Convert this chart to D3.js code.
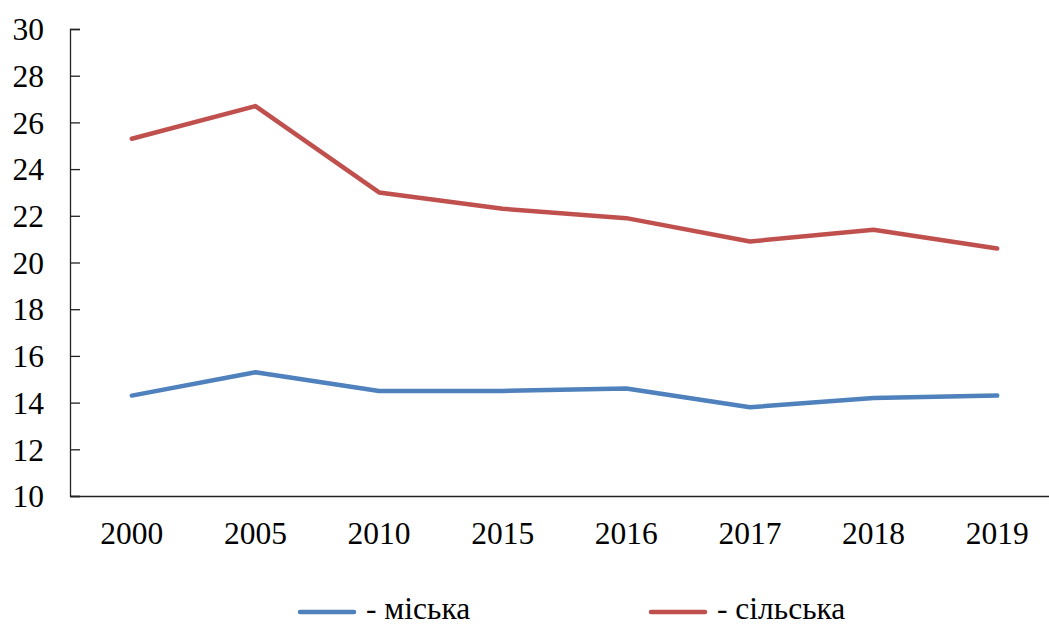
<!DOCTYPE html>
<html>
<head>
<meta charset="utf-8">
<script src="https://cdn.jsdelivr.net/npm/d3@7"></script>
<style>
  html, body { margin: 0; padding: 0; background: #fff; }
  svg { display: block; }
</style>
</head>
<body>
<svg id="chart" width="1049" height="626"></svg>
<script>
// Years on the category axis
const years = ["2000", "2005", "2010", "2015", "2016", "2017", "2018", "2019"];
// Urban series
const urban = [14.3, 15.3, 14.5, 14.5, 14.6, 13.8, 14.2, 14.3];
// Rural series
const rural = [25.3, 26.7, 23.0, 22.3, 21.9, 20.9, 21.4, 20.6];
// Y axis tick values
const yTicks = [10, 12, 14, 16, 18, 20, 22, 24, 26, 28, 30];
// Series names for the legend
const seriesNames = ["- міська", "- сільська"];
const seriesColors = ["#4F81BD", "#C0504D"];

const FONT = "'Liberation Serif', 'Times New Roman', Tinos, serif";
const FONT_SIZE = "31.5px";

const svg = d3.select("#chart");
const plotLeft = 70, plotRight = 1059, plotTop = 29, plotBottom = 496;

const x = d3.scaleBand().domain(years).range([plotLeft, plotRight]);
const y = d3.scaleLinear().domain([10, 30]).range([plotBottom, plotTop]);
const cx = d => x(d) + x.bandwidth() / 2;

// Y axis with inward ticks
const yAxis = svg.append("g")
  .attr("transform", `translate(${plotLeft},0)`)
  .call(d3.axisRight(y).tickValues(yTicks).tickSize(10).tickFormat(d3.format("d")))
  .attr("font-family", FONT);
yAxis.select(".domain").attr("stroke", "#222").attr("stroke-width", 1.3);
yAxis.selectAll(".tick line").attr("stroke", "#222").attr("stroke-width", 1.3);
yAxis.selectAll(".tick text")
  .attr("x", -26).attr("text-anchor", "end").attr("dy", "0.34em")
  .attr("fill", "#000")
  .style("font-family", FONT)
  .style("font-size", FONT_SIZE);

// X axis
const xAxis = svg.append("g")
  .attr("transform", `translate(0,${plotBottom})`)
  .call(d3.axisBottom(x).tickSize(0))
  .attr("font-family", FONT);
xAxis.select(".domain").attr("stroke", "#222").attr("stroke-width", 1.3);
xAxis.selectAll(".tick text")
  .attr("y", 48).attr("dy", "0")
  .attr("fill", "#000")
  .style("font-family", FONT)
  .style("font-size", FONT_SIZE);

// Series lines
const line = d3.line().x((d, i) => cx(years[i])).y(d => y(d));
[urban, rural].forEach((vals, k) => {
  svg.append("path")
    .datum(vals)
    .attr("d", line)
    .attr("fill", "none")
    .attr("stroke", seriesColors[k])
    .attr("stroke-width", 4.5)
    .attr("stroke-linejoin", "round")
    .attr("stroke-linecap", "round");
});

// Legend
const legendX = [299, 650];
const legendY = 612;
seriesNames.forEach((name, k) => {
  const g = svg.append("g").attr("transform", `translate(${legendX[k]},${legendY})`);
  g.append("line").attr("x1", 1).attr("x2", 55).attr("y1", 0).attr("y2", 0)
    .attr("stroke", seriesColors[k]).attr("stroke-width", 4.5).attr("stroke-linecap", "round");
  g.append("text").attr("x", 67).attr("y", 7)
    .attr("fill", "#000")
    .style("font-family", FONT)
    .style("font-size", FONT_SIZE).text(name);
});
</script>
</body>
</html>
